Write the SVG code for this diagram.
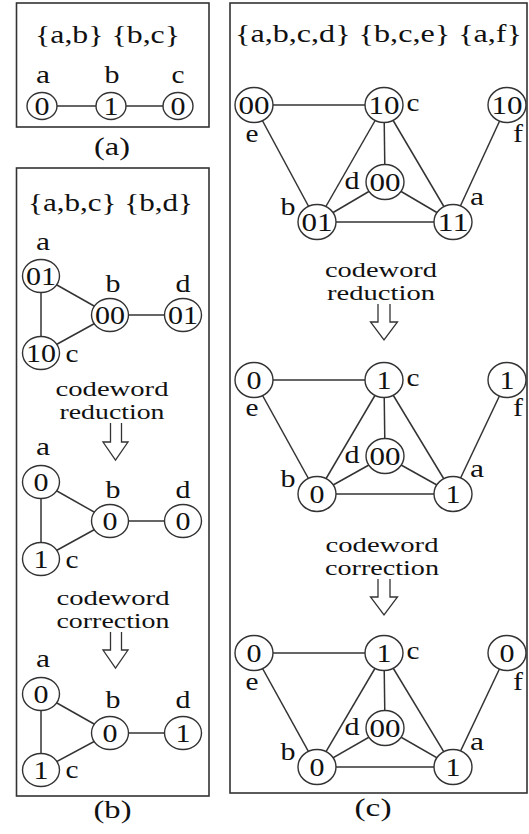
<svg xmlns="http://www.w3.org/2000/svg" width="529" height="834" viewBox="0 0 529 834">
<style>
.t{font-family:"Liberation Serif","Times New Roman",Tinos,"DejaVu Serif",serif;font-size:26px;fill:#111;text-anchor:middle}
.s{font-size:22px}
.box{fill:none;stroke:#333;stroke-width:1.6}
.n ellipse{fill:#fff;stroke:#333;stroke-width:1.4}
.e line{stroke:#333;stroke-width:1.5}
.arr{fill:#fff;stroke:#333;stroke-width:1.3}
</style>
<rect width="529" height="834" fill="#fff"/>
<g id="frames">
<rect class="box" x="16.5" y="3" width="192.5" height="124"/>
<rect class="box" x="16.5" y="168" width="192.5" height="628"/>
<rect class="box" x="230" y="3" width="297" height="790"/>
</g>
<g id="texts">
<text class="t" x="107.5" y="43" textLength="145" lengthAdjust="spacingAndGlyphs">{a,b}  {b,c}</text>
<text class="t" x="112" y="155" textLength="36" lengthAdjust="spacingAndGlyphs">(a)</text>
<text class="t" x="110.5" y="211" textLength="165" lengthAdjust="spacingAndGlyphs">{a,b,c}  {b,d}</text>
<text class="t s" x="112" y="396" textLength="113" lengthAdjust="spacingAndGlyphs">codeword</text>
<text class="t s" x="112" y="419" textLength="105" lengthAdjust="spacingAndGlyphs">reduction</text>
<text class="t s" x="113" y="605" textLength="113" lengthAdjust="spacingAndGlyphs">codeword</text>
<text class="t s" x="113" y="628" textLength="113" lengthAdjust="spacingAndGlyphs">correction</text>
<text class="t" x="112.5" y="818" textLength="38" lengthAdjust="spacingAndGlyphs">(b)</text>
<text class="t" x="378.5" y="42" textLength="287" lengthAdjust="spacingAndGlyphs">{a,b,c,d}  {b,c,e}  {a,f}</text>
<text class="t s" x="381" y="277" textLength="112" lengthAdjust="spacingAndGlyphs">codeword</text>
<text class="t s" x="381" y="300" textLength="108" lengthAdjust="spacingAndGlyphs">reduction</text>
<text class="t s" x="382" y="552" textLength="113" lengthAdjust="spacingAndGlyphs">codeword</text>
<text class="t s" x="382" y="575" textLength="114" lengthAdjust="spacingAndGlyphs">correction</text>
<text class="t" x="373" y="816" textLength="37" lengthAdjust="spacingAndGlyphs">(c)</text>
</g>
<g id="arrows">
<path class="arr" d="M110.5,423 V442 H103 L115.5,460 L128,442 H121.5 V423"/>
<path class="arr" d="M110.5,632 V650 H103 L115.5,668 L128,650 H121.5 V632"/>
<path class="arr" d="M378,304 V322 H370.5 L384,340 L397.5,322 H390 V304"/>
<path class="arr" d="M378,579 V597 H370.5 L384,615 L397.5,597 H390 V579"/>
</g>
<g id="connectors" class="e">
<line x1="42" y1="106" x2="111" y2="106"/>
<line x1="111" y1="106" x2="178" y2="106"/>
<line x1="41" y1="276" x2="41" y2="353"/>
<line x1="41" y1="276" x2="110" y2="315"/>
<line x1="41" y1="353" x2="110" y2="315"/>
<line x1="110" y1="315" x2="183" y2="315"/>
<line x1="41" y1="482" x2="41" y2="559"/>
<line x1="41" y1="482" x2="110" y2="521"/>
<line x1="41" y1="559" x2="110" y2="521"/>
<line x1="110" y1="521" x2="183" y2="521"/>
<line x1="41" y1="694" x2="41" y2="770"/>
<line x1="41" y1="694" x2="110" y2="733"/>
<line x1="41" y1="770" x2="110" y2="733"/>
<line x1="110" y1="733" x2="183" y2="733"/>
<line x1="254" y1="105" x2="384" y2="105"/>
<line x1="254" y1="105" x2="317" y2="222"/>
<line x1="384" y1="105" x2="317" y2="222"/>
<line x1="384" y1="105" x2="385" y2="182"/>
<line x1="384" y1="105" x2="453" y2="222"/>
<line x1="385" y1="182" x2="317" y2="222"/>
<line x1="385" y1="182" x2="453" y2="222"/>
<line x1="317" y1="222" x2="453" y2="222"/>
<line x1="507" y1="105" x2="453" y2="222"/>
<line x1="254" y1="380" x2="384" y2="380"/>
<line x1="254" y1="380" x2="317" y2="494"/>
<line x1="384" y1="380" x2="317" y2="494"/>
<line x1="384" y1="380" x2="385" y2="456"/>
<line x1="384" y1="380" x2="453" y2="494"/>
<line x1="385" y1="456" x2="317" y2="494"/>
<line x1="385" y1="456" x2="453" y2="494"/>
<line x1="317" y1="494" x2="453" y2="494"/>
<line x1="507" y1="380" x2="453" y2="494"/>
<line x1="254" y1="653" x2="384" y2="653"/>
<line x1="254" y1="653" x2="317" y2="767"/>
<line x1="384" y1="653" x2="317" y2="767"/>
<line x1="384" y1="653" x2="385" y2="728"/>
<line x1="384" y1="653" x2="453" y2="767"/>
<line x1="385" y1="728" x2="317" y2="767"/>
<line x1="385" y1="728" x2="453" y2="767"/>
<line x1="317" y1="767" x2="453" y2="767"/>
<line x1="507" y1="653" x2="453" y2="767"/>
</g>
<!-- panel a -->
<g id="pa-a" class="n"><ellipse cx="42" cy="106" rx="15" ry="13.5"/><text class="t" x="42" y="115" textLength="15" lengthAdjust="spacingAndGlyphs">0</text><text class="t" x="43" y="83" textLength="14" lengthAdjust="spacingAndGlyphs">a</text></g>
<g id="pa-b" class="n"><ellipse cx="111" cy="106" rx="15" ry="13.5"/><text class="t" x="111" y="115" textLength="15" lengthAdjust="spacingAndGlyphs">1</text><text class="t" x="112" y="83" textLength="15" lengthAdjust="spacingAndGlyphs">b</text></g>
<g id="pa-c" class="n"><ellipse cx="178" cy="106" rx="15" ry="13.5"/><text class="t" x="178" y="115" textLength="15" lengthAdjust="spacingAndGlyphs">0</text><text class="t" x="178" y="83" textLength="13" lengthAdjust="spacingAndGlyphs">c</text></g>
<!-- panel b graph 1 -->
<g id="pb1-a" class="n"><ellipse cx="41" cy="276" rx="18.5" ry="16.5"/><text class="t" x="41" y="285" textLength="30" lengthAdjust="spacingAndGlyphs">01</text><text class="t" x="43" y="250" textLength="14" lengthAdjust="spacingAndGlyphs">a</text></g>
<g id="pb1-b" class="n"><ellipse cx="110" cy="315" rx="18.5" ry="16.5"/><text class="t" x="110" y="324" textLength="30" lengthAdjust="spacingAndGlyphs">00</text><text class="t" x="113" y="292" textLength="15" lengthAdjust="spacingAndGlyphs">b</text></g>
<g id="pb1-d" class="n"><ellipse cx="183" cy="315" rx="18.5" ry="16.5"/><text class="t" x="183" y="324" textLength="30" lengthAdjust="spacingAndGlyphs">01</text><text class="t" x="183" y="292" textLength="15" lengthAdjust="spacingAndGlyphs">d</text></g>
<g id="pb1-c" class="n"><ellipse cx="41" cy="353" rx="18.5" ry="16.5"/><text class="t" x="41" y="362" textLength="30" lengthAdjust="spacingAndGlyphs">10</text><text class="t" x="72" y="362" textLength="13" lengthAdjust="spacingAndGlyphs">c</text></g>
<!-- panel b graph 2 -->
<g id="pb2-a" class="n"><ellipse cx="41" cy="482" rx="18.5" ry="16.5"/><text class="t" x="41" y="491" textLength="15" lengthAdjust="spacingAndGlyphs">0</text><text class="t" x="43" y="455" textLength="14" lengthAdjust="spacingAndGlyphs">a</text></g>
<g id="pb2-b" class="n"><ellipse cx="110" cy="521" rx="18.5" ry="16.5"/><text class="t" x="110" y="530" textLength="15" lengthAdjust="spacingAndGlyphs">0</text><text class="t" x="113" y="498" textLength="15" lengthAdjust="spacingAndGlyphs">b</text></g>
<g id="pb2-d" class="n"><ellipse cx="183" cy="521" rx="18.5" ry="16.5"/><text class="t" x="183" y="530" textLength="15" lengthAdjust="spacingAndGlyphs">0</text><text class="t" x="183" y="498" textLength="15" lengthAdjust="spacingAndGlyphs">d</text></g>
<g id="pb2-c" class="n"><ellipse cx="41" cy="559" rx="18.5" ry="16.5"/><text class="t" x="41" y="568" textLength="15" lengthAdjust="spacingAndGlyphs">1</text><text class="t" x="72" y="568" textLength="13" lengthAdjust="spacingAndGlyphs">c</text></g>
<!-- panel b graph 3 -->
<g id="pb3-a" class="n"><ellipse cx="41" cy="694" rx="18.5" ry="16.5"/><text class="t" x="41" y="703" textLength="15" lengthAdjust="spacingAndGlyphs">0</text><text class="t" x="43" y="667" textLength="14" lengthAdjust="spacingAndGlyphs">a</text></g>
<g id="pb3-b" class="n"><ellipse cx="110" cy="733" rx="18.5" ry="16.5"/><text class="t" x="110" y="742" textLength="15" lengthAdjust="spacingAndGlyphs">0</text><text class="t" x="113" y="708" textLength="15" lengthAdjust="spacingAndGlyphs">b</text></g>
<g id="pb3-d" class="n"><ellipse cx="183" cy="733" rx="18.5" ry="16.5"/><text class="t" x="183" y="742" textLength="15" lengthAdjust="spacingAndGlyphs">1</text><text class="t" x="183" y="708" textLength="15" lengthAdjust="spacingAndGlyphs">d</text></g>
<g id="pb3-c" class="n"><ellipse cx="41" cy="770" rx="18.5" ry="16.5"/><text class="t" x="41" y="779" textLength="15" lengthAdjust="spacingAndGlyphs">1</text><text class="t" x="72" y="778" textLength="13" lengthAdjust="spacingAndGlyphs">c</text></g>
<!-- panel c graph 1 -->
<g id="pc1-e" class="n"><ellipse cx="254" cy="105" rx="19" ry="17.5"/><text class="t" x="254" y="114" textLength="31" lengthAdjust="spacingAndGlyphs">00</text><text class="t" x="252" y="142" textLength="13" lengthAdjust="spacingAndGlyphs">e</text></g>
<g id="pc1-c" class="n"><ellipse cx="384" cy="105" rx="19" ry="17.5"/><text class="t" x="384" y="114" textLength="31" lengthAdjust="spacingAndGlyphs">10</text><text class="t" x="413" y="111" textLength="13" lengthAdjust="spacingAndGlyphs">c</text></g>
<g id="pc1-f" class="n"><ellipse cx="507" cy="105" rx="19" ry="17.5"/><text class="t" x="507" y="114" textLength="31" lengthAdjust="spacingAndGlyphs">10</text><text class="t" x="518" y="142" textLength="10" lengthAdjust="spacingAndGlyphs">f</text></g>
<g id="pc1-d" class="n"><ellipse cx="385" cy="182" rx="19" ry="17.5"/><text class="t" x="385" y="191" textLength="31" lengthAdjust="spacingAndGlyphs">00</text><text class="t" x="352" y="189" textLength="15" lengthAdjust="spacingAndGlyphs">d</text></g>
<g id="pc1-b" class="n"><ellipse cx="317" cy="222" rx="19" ry="17.5"/><text class="t" x="317" y="231" textLength="31" lengthAdjust="spacingAndGlyphs">01</text><text class="t" x="288" y="215" textLength="15" lengthAdjust="spacingAndGlyphs">b</text></g>
<g id="pc1-a" class="n"><ellipse cx="453" cy="222" rx="19" ry="17.5"/><text class="t" x="453" y="231" textLength="31" lengthAdjust="spacingAndGlyphs">11</text><text class="t" x="477" y="205" textLength="14" lengthAdjust="spacingAndGlyphs">a</text></g>
<!-- panel c graph 2 -->
<g id="pc2-e" class="n"><ellipse cx="254" cy="380" rx="19" ry="17.5"/><text class="t" x="254" y="389" textLength="15" lengthAdjust="spacingAndGlyphs">0</text><text class="t" x="252" y="416" textLength="13" lengthAdjust="spacingAndGlyphs">e</text></g>
<g id="pc2-c" class="n"><ellipse cx="384" cy="380" rx="19" ry="17.5"/><text class="t" x="384" y="389" textLength="15" lengthAdjust="spacingAndGlyphs">1</text><text class="t" x="413" y="386" textLength="13" lengthAdjust="spacingAndGlyphs">c</text></g>
<g id="pc2-f" class="n"><ellipse cx="507" cy="380" rx="19" ry="17.5"/><text class="t" x="507" y="389" textLength="15" lengthAdjust="spacingAndGlyphs">1</text><text class="t" x="518" y="416" textLength="10" lengthAdjust="spacingAndGlyphs">f</text></g>
<g id="pc2-d" class="n"><ellipse cx="385" cy="456" rx="19" ry="17.5"/><text class="t" x="385" y="465" textLength="31" lengthAdjust="spacingAndGlyphs">00</text><text class="t" x="352" y="463" textLength="15" lengthAdjust="spacingAndGlyphs">d</text></g>
<g id="pc2-b" class="n"><ellipse cx="317" cy="494" rx="19" ry="17.5"/><text class="t" x="317" y="503" textLength="15" lengthAdjust="spacingAndGlyphs">0</text><text class="t" x="288" y="487" textLength="15" lengthAdjust="spacingAndGlyphs">b</text></g>
<g id="pc2-a" class="n"><ellipse cx="453" cy="494" rx="19" ry="17.5"/><text class="t" x="453" y="503" textLength="15" lengthAdjust="spacingAndGlyphs">1</text><text class="t" x="477" y="477" textLength="14" lengthAdjust="spacingAndGlyphs">a</text></g>
<!-- panel c graph 3 -->
<g id="pc3-e" class="n"><ellipse cx="254" cy="653" rx="19" ry="17.5"/><text class="t" x="254" y="662" textLength="15" lengthAdjust="spacingAndGlyphs">0</text><text class="t" x="252" y="690" textLength="13" lengthAdjust="spacingAndGlyphs">e</text></g>
<g id="pc3-c" class="n"><ellipse cx="384" cy="653" rx="19" ry="17.5"/><text class="t" x="384" y="662" textLength="15" lengthAdjust="spacingAndGlyphs">1</text><text class="t" x="413" y="659" textLength="13" lengthAdjust="spacingAndGlyphs">c</text></g>
<g id="pc3-f" class="n"><ellipse cx="507" cy="653" rx="19" ry="17.5"/><text class="t" x="507" y="662" textLength="15" lengthAdjust="spacingAndGlyphs">0</text><text class="t" x="518" y="690" textLength="10" lengthAdjust="spacingAndGlyphs">f</text></g>
<g id="pc3-d" class="n"><ellipse cx="385" cy="728" rx="19" ry="17.5"/><text class="t" x="385" y="737" textLength="31" lengthAdjust="spacingAndGlyphs">00</text><text class="t" x="352" y="735" textLength="15" lengthAdjust="spacingAndGlyphs">d</text></g>
<g id="pc3-b" class="n"><ellipse cx="317" cy="767" rx="19" ry="17.5"/><text class="t" x="317" y="776" textLength="15" lengthAdjust="spacingAndGlyphs">0</text><text class="t" x="288" y="760" textLength="15" lengthAdjust="spacingAndGlyphs">b</text></g>
<g id="pc3-a" class="n"><ellipse cx="453" cy="767" rx="19" ry="17.5"/><text class="t" x="453" y="776" textLength="15" lengthAdjust="spacingAndGlyphs">1</text><text class="t" x="477" y="750" textLength="14" lengthAdjust="spacingAndGlyphs">a</text></g>
</svg>
